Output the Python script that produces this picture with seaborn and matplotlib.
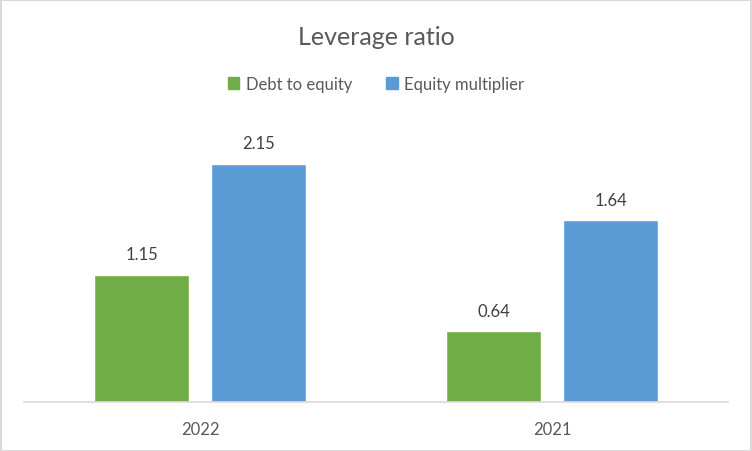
import pandas as pd
import matplotlib
matplotlib.use('Agg')
import matplotlib.pyplot as plt
import seaborn as sns

# Datele graficului
anii = ['2022', '2021']
serii = ['Debt to equity', 'Equity multiplier']
debt_to_equity = [1.15, 0.64]
equity_multiplier = [2.15, 1.64]
culori = ['#70AD47', '#5B9BD5']

df = pd.DataFrame({
    'An': anii * 2,
    'Serie': [serii[0]] * len(anii) + [serii[1]] * len(anii),
    'Valoare': debt_to_equity + equity_multiplier,
})

sns.set_style('white')
plt.rcParams['font.family'] = ['Lato', 'DejaVu Sans']

fig = plt.figure(figsize=(7.52, 4.52), dpi=100)
ax = fig.add_axes([24 / 752, 49 / 452, 704 / 752, 277 / 452])

sns.barplot(data=df, x='An', y='Valoare', hue='Serie', palette=culori,
            width=0.665, gap=0.185, saturation=1, ax=ax, legend=False)

for cont in ax.containers:
    ax.bar_label(cont, fmt='%.2f', padding=9, fontsize=12, color='#404040')

ax.set_ylim(0, 2.5)
ax.set_xlim(-0.5, 1.5)
ax.set_xlabel('')
ax.set_ylabel('')
ax.set_yticks([])
ax.tick_params(axis='x', length=0, labelsize=12, labelcolor='#595959', pad=14)
for s in ['top', 'right', 'left']:
    ax.spines[s].set_visible(False)
ax.spines['bottom'].set_color('#D9D9D9')
ax.spines['bottom'].set_linewidth(1.2)

fig.text(0.5, 0.918, 'Leverage ratio', ha='center', va='center', fontsize=18, color='#595959')

# Legenda
handles = [plt.Rectangle((0, 0), 1, 1, color=c) for c in culori]
fig.legend(handles, serii, loc='center', bbox_to_anchor=(0.5, 0.812), ncol=2, frameon=False,
           fontsize=12, labelcolor='#595959', handlelength=0.7, handleheight=0.7,
           handletextpad=0.4, columnspacing=2.0)

# Chenar
fig.patches.append(plt.Rectangle((0.001, 0.001), 0.998, 0.997, transform=fig.transFigure,
                                 fill=False, edgecolor='#D9D9D9', linewidth=1.5))

fig.savefig('out.png', dpi=100)
